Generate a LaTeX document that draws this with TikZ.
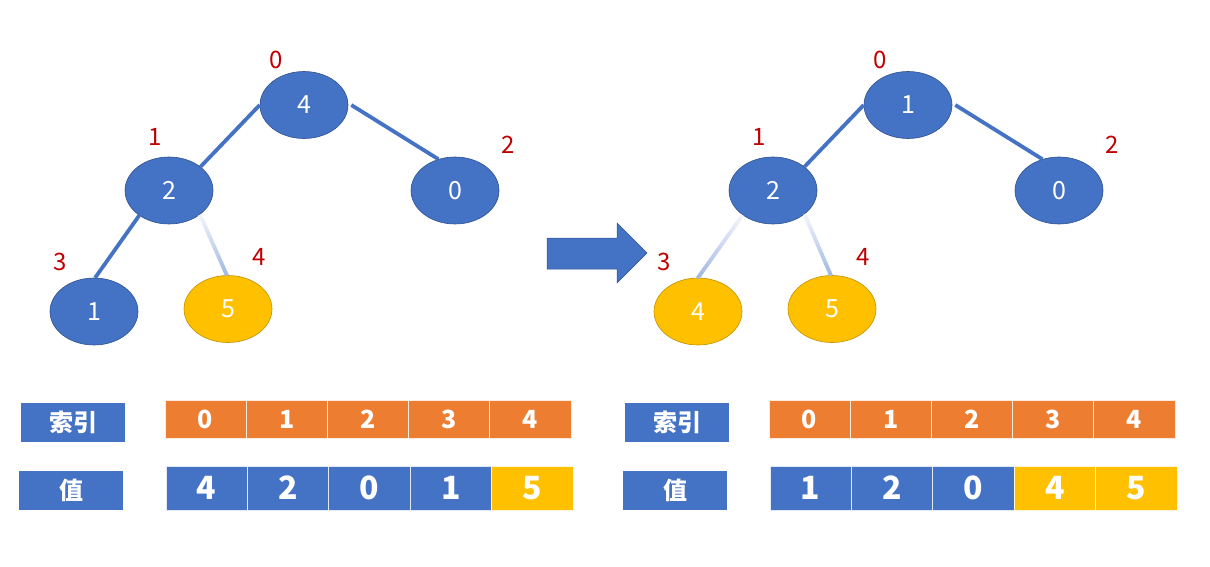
\documentclass[tikz,border=0pt]{standalone}
\usepackage{fontspec}
\setmainfont{Noto Sans CJK SC}
\usetikzlibrary{shapes.geometric,calc}
\definecolor{mblue}{HTML}{4472C4}
\definecolor{mblueb}{HTML}{2F528F}
\definecolor{morange}{HTML}{ED7D31}
\definecolor{mgold}{HTML}{FFC000}
\definecolor{mgoldb}{HTML}{BF9000}
\definecolor{mred}{HTML}{C00000}
\tikzset{
  tnode/.style={ellipse, minimum width=88pt, minimum height=67pt, inner sep=0pt, text=white, font=\fontsize{25}{25}\selectfont, line width=0.6pt},
  bnode/.style={tnode, fill=mblue, draw=mblueb},
  gnode/.style={tnode, fill=mgold, draw=mgoldb},
  idx/.style={text=mred, font=\fontsize{24}{24}\selectfont, inner sep=0pt},
  edge/.style={draw=mblue, line width=3.8pt},
  lbox/.style={rectangle, fill=mblue, minimum width=104pt, minimum height=39pt, inner sep=0pt, text=white, font=\bfseries\fontsize{24}{24}\selectfont},
  icell/.style={rectangle, fill=morange, draw=white!85!morange, line width=1pt, minimum width=81.2pt, minimum height=38pt, inner sep=0pt, text=white, font=\bfseries\fontsize{25}{25}\selectfont},
  vcell/.style={rectangle, fill=mblue, draw=white!85!mblue, line width=1pt, minimum width=81.4pt, minimum height=44pt, inner sep=0pt, text=white, font=\bfseries\fontsize{32}{32}\selectfont},
  vgcell/.style={vcell, fill=mgold, draw=white!85!mgold},
}
\newcommand{\fadeedge}[2]{%
  \foreach \i in {0,...,19}{%
    \pgfmathsetmacro{\pa}{\i/20}%
    \pgfmathsetmacro{\pb}{(\i+1)/20+0.01}%
    \pgfmathtruncatemacro{\pc}{8+2.2*\i}%
    \draw[mblue!\pc!white, line width=3.8pt] ($(#1)!\pa!(#2)$) -- ($(#1)!\pb!(#2)$);
  }%
}
\begin{document}
\begin{tikzpicture}[x=1pt,y=-1pt]
\useasboundingbox (0,0) rectangle (1210,567);

% ---------- left tree ----------
\node[bnode] (L0) at (304,105) {4};
\node[bnode] (L1) at (169,190.5) {2};
\node[bnode] (L2) at (455,190.5) {0};
\node[bnode] (L3) at (94,311.5) {1};
\node[gnode] (L4) at (228,309) {5};
\node[idx] (Li0) at (276,60) {0};
\node[idx] (Li1) at (155,137) {1};
\node[idx] (Li2) at (508,145) {2};
\node[idx] (Li3) at (60,262) {3};
\node[idx] (Li4) at (259,257) {4};
\coordinate (La) at (L0.180);
\coordinate (Lb) at (L1.37);
\coordinate (Lc) at ($(L0.0)+(3,0)$);
\coordinate (Ld) at (L2.118);
\draw[edge] (La) -- (Lb);
\draw[edge] (Lc) -- (Ld);
\draw[edge] (L1.220) -- (L3.88);
\coordinate (Le) at (L1.322);
\coordinate (Lf) at (L4.92);
\fadeedge{Le}{Lf}

% ---------- arrow ----------
\fill[mblue, draw=mblueb, line width=0.5pt] (547,238) -- (617,238) -- (617,223) -- (647,253) -- (617,283) -- (617,269) -- (547,269) -- cycle;

% ---------- right tree ----------
\node[bnode] (R0) at (908,105) {1};
\node[bnode] (R1) at (773,190.5) {2};
\node[bnode] (R2) at (1059,190.5) {0};
\node[gnode] (R3) at (698,311.5) {4};
\node[gnode] (R4) at (832,309) {5};
\node[idx] (Ri0) at (880,60) {0};
\node[idx] (Ri1) at (759,137) {1};
\node[idx] (Ri2) at (1112,145) {2};
\node[idx] (Ri3) at (664,262) {3};
\node[idx] (Ri4) at (863,257) {4};
\draw[edge] (R0.180) -- (R1.37);
\coordinate (Rc) at ($(R0.0)+(3,0)$);
\draw[edge] (Rc) -- (R2.118);
\coordinate (Ra) at (R1.219);
\coordinate (Rb) at (R3.90);
\fadeedge{Ra}{Rb}
\coordinate (Rd) at (R1.323);
\coordinate (Rf) at (R4.92);
\fadeedge{Rd}{Rf}

% ---------- left tables ----------
\node[lbox] (Lk) at (73,422.5) {索引};
\node[lbox] (Lv) at (71,490.5) {值};
\foreach \v [count=\k from 0] in {0,1,2,3,4}{
  \node[icell] (Lic\k) at ({165+40.6+81.2*\k},419) {\v};
}
\foreach \v [count=\k from 0] in {4,2,0,1}{
  \node[vcell] (Lvc\k) at ({166+40.7+81.4*\k},488) {\v};
}
\node[vgcell] (Lvc4) at ({166+40.7+81.4*4},488) {5};

% ---------- right tables ----------
\node[lbox] (Rk) at (677,422.5) {索引};
\node[lbox] (Rv) at (675,490.5) {值};
\foreach \v [count=\k from 0] in {0,1,2,3,4}{
  \node[icell] (Ric\k) at ({769+40.6+81.2*\k},419) {\v};
}
\foreach \v [count=\k from 0] in {1,2,0}{
  \node[vcell] (Rvc\k) at ({770+40.7+81.4*\k},488) {\v};
}
\node[vgcell] (Rvc3) at ({770+40.7+81.4*3},488) {4};
\node[vgcell] (Rvc4) at ({770+40.7+81.4*4},488) {5};
\end{tikzpicture}
\end{document}
